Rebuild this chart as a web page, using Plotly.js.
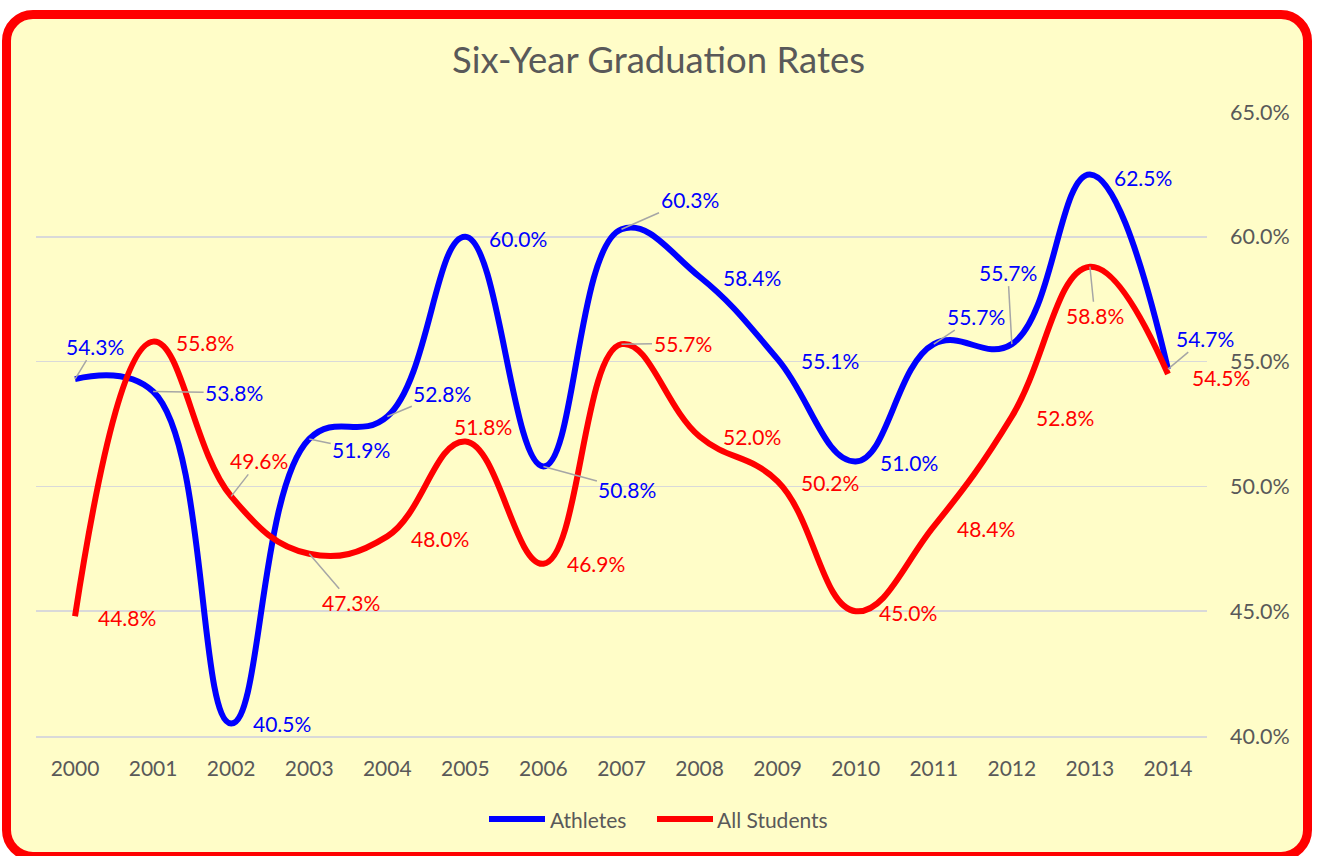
<!DOCTYPE html>
<html>
<head>
<meta charset="utf-8">
<script src="https://cdn.plot.ly/plotly-3.0.1.min.js"></script>
<style>
  html, body { margin: 0; padding: 0; background: #ffffff; width: 1317px; height: 856px; overflow: hidden; }
  #frame { position: absolute; left: 2px; top: 10px; width: 1310px; height: 851px; box-sizing: border-box;
           border: 9px solid #ff0000; border-radius: 31px; background: #FFFDC8; }
  #chart { position: absolute; left: 0; top: 0; width: 1317px; height: 856px; }
  #err { position: absolute; left: 40px; top: 40px; color: #000; font: 14px sans-serif; white-space: pre; }
</style>
</head>
<body>
<div id="frame"></div>
<div id="chart"></div>
<div id="err"></div>
<script>
// ---- data ----
const years = ['2000','2001','2002','2003','2004','2005','2006','2007','2008','2009','2010','2011','2012','2013','2014'];
const athletes = [54.3, 53.8, 40.5, 51.9, 52.8, 60.0, 50.8, 60.3, 58.4, 55.1, 51.0, 55.7, 55.7, 62.5, 54.7];
const allStudents = [44.8, 55.8, 49.6, 47.3, 48.0, 51.8, 46.9, 55.7, 52.0, 50.2, 45.0, 48.4, 52.8, 58.8, 54.5];
const seriesNames = ['Athletes', 'All Students'];
const chartTitle = 'Six-Year Graduation Rates';

// ---- label placement (pixel offsets from the point: dx, dy(down), leader line) ----
const athleteLabelPos = [
  [20,-33,true],[81,1,true],[51,0,false],[52,11,true],[55,-23,true],[53,2,false],[84,23,true],
  [68,-30,true],[52,1,false],[52,1,false],[53,1,false],[42,-28,true],[-4,-72,true],[53,3,false],[37,-31,true]
];
const studentLabelPos = [
  [52,1,false],[52,1,false],[28,-36,true],[42,49,true],[53,2,false],[18,-15,false],[53,0,false],
  [61,-1,true],[52,0,false],[52,1,false],[52,1,false],[52,2,false],[53,1,false],[5,49,true],[53,3,false]
];

const FONT = 'Lato, "Open Sans", sans-serif';
const GRAY = '#595959';
const BLUE = '#0000FF';
const RED = '#FF0000';
const colors = [BLUE, RED];

// plot area geometry (pixels) used to place the custom legend
const M = {l: 36, r: 110, t: 112, b: 120};
const W = 1317, H = 856;
const PW = W - M.l - M.r, PH = H - M.t - M.b;
const px = X => (X - M.l) / PW;
const py = Y => (H - M.b - Y) / PH;

function labels(values, pos, color) {
  return values.map((v, i) => {
    const [dx, dy, arrow] = pos[i];
    const a = {
      x: i, y: v, xref: 'x', yref: 'y',
      text: v.toFixed(1) + '%',
      font: {family: FONT, size: 21, color: color},
      xanchor: 'center', yanchor: 'middle'
    };
    if (arrow) {
      Object.assign(a, {showarrow: true, ax: dx, ay: dy, arrowhead: 0, arrowwidth: 1.5,
                        arrowcolor: '#A6A6A6', standoff: 0});
    } else {
      Object.assign(a, {showarrow: false, xshift: dx, yshift: -dy});
    }
    return a;
  });
}

const traces = [athletes, allStudents].map((vals, k) => ({
  x: years, y: vals, name: seriesNames[k], type: 'scatter', mode: 'lines',
  line: {color: colors[k], width: 6, shape: 'spline', smoothing: 1.2},
  cliponaxis: false, hoverinfo: 'skip', showlegend: false
}));

// custom legend (long line samples like the original)
const legendItems = [{x0: 489, x1: 545, tx: 548}, {x0: 657, x1: 713, tx: 715}];
const legendY = 819;
const legendShapes = legendItems.map((it, k) => ({
  type: 'line', xref: 'paper', yref: 'paper', x0: px(it.x0), x1: px(it.x1), y0: py(legendY), y1: py(legendY),
  line: {color: colors[k], width: 6}
}));
const legendTexts = legendItems.map((it, k) => ({
  xref: 'paper', yref: 'paper', x: px(it.tx), y: py(legendY), xanchor: 'left', yanchor: 'middle',
  text: seriesNames[k], showarrow: false, font: {family: FONT, size: 21, color: GRAY}
}));

const layout = {
  width: W, height: H,
  paper_bgcolor: 'rgba(0,0,0,0)', plot_bgcolor: 'rgba(0,0,0,0)',
  margin: M,
  title: {text: chartTitle, font: {family: FONT, size: 36.5, color: GRAY},
          x: 0.5, xref: 'container', xanchor: 'center', y: 1 - 60/856, yref: 'container', yanchor: 'middle'},
  xaxis: {type: 'category', range: [-0.5, 14.5], showgrid: false, zeroline: false,
          showline: true, linecolor: '#D9D9D9', linewidth: 1.5, ticks: '', ticklabelstandoff: 13,
          tickfont: {family: FONT, size: 21, color: GRAY}, fixedrange: true},
  yaxis: {side: 'right', range: [40, 65], dtick: 5, tick0: 40, tickformat: '.1f', ticksuffix: '%',
          showgrid: true, gridcolor: '#D9D9D9', gridwidth: 1.5, zeroline: false, showline: false,
          ticks: '', ticklabelstandoff: 22, tickfont: {family: FONT, size: 21.5, color: GRAY}, fixedrange: true},
  showlegend: false,
  shapes: legendShapes,
  annotations: labels(athletes, athleteLabelPos, BLUE)
    .concat(labels(allStudents, studentLabelPos, RED))
    .concat(legendTexts)
};

try {
  Plotly.newPlot('chart', traces, layout, {displayModeBar: false, staticPlot: true})
    .catch(e => { document.getElementById('err').textContent = String(e && e.stack || e); });
} catch (e) {
  document.getElementById('err').textContent = String(e && e.stack || e);
}
</script>
</body>
</html>
